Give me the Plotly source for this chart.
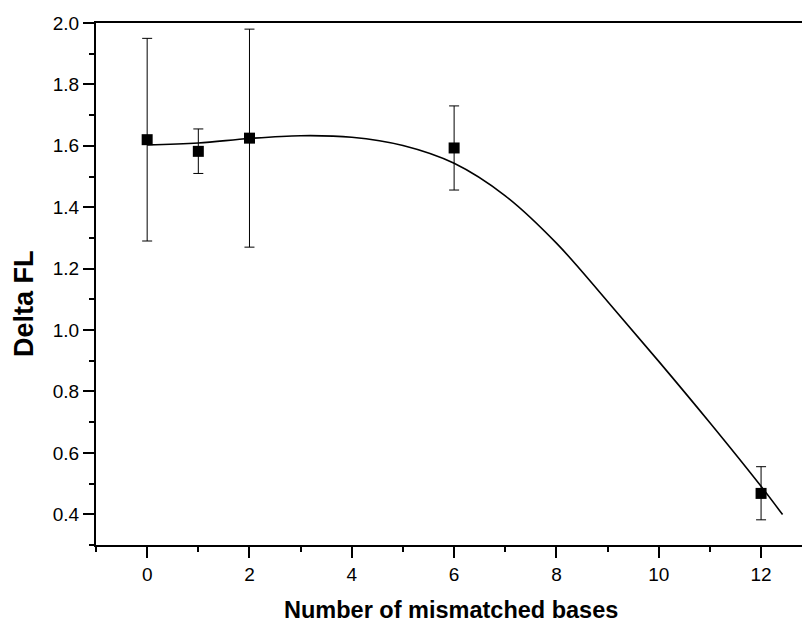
import plotly.graph_objects as go

# measured data points
x_pts = [0, 1, 2, 6, 12]
y_pts = [1.620, 1.582, 1.625, 1.593, 0.468]
err_plus = [0.330, 0.073, 0.355, 0.137, 0.087]
err_minus = [0.330, 0.072, 0.355, 0.137, 0.086]

# fitted curve at whole-number x positions
x_fit = [0, 1, 2, 3, 4, 5, 6, 7, 8, 9, 10, 11, 12, 12.42]
y_fit = [1.603, 1.609, 1.624, 1.633, 1.628, 1.601, 1.543, 1.437, 1.283, 1.093,
         0.898, 0.698, 0.491, 0.399]

x_ticks = [0, 2, 4, 6, 8, 10, 12]
y_ticks = [0.4, 0.6, 0.8, 1.0, 1.2, 1.4, 1.6, 1.8, 2.0]

FONT = "Liberation Sans, Arial, sans-serif"

fig = go.Figure()
fig.add_trace(go.Scatter(
    x=x_fit, y=y_fit, mode="lines",
    line=dict(color="black", width=1.6, shape="spline", smoothing=1.0),
    hoverinfo="skip", showlegend=False,
))
fig.add_trace(go.Scatter(
    x=x_pts, y=y_pts, mode="markers",
    marker=dict(symbol="square", size=11, color="black"),
    error_y=dict(type="data", symmetric=False, array=err_plus, arrayminus=err_minus,
                 color="black", thickness=1, width=5),
    showlegend=False,
))

fig.update_layout(
    width=802, height=622,
    margin=dict(l=96, r=0, t=23, b=77),
    paper_bgcolor="white", plot_bgcolor="white",
    font=dict(family=FONT, size=19, color="black"),
    xaxis=dict(
        range=[-1, 12.8], tickvals=x_ticks, ticktext=[str(v) for v in x_ticks],
        showgrid=False, zeroline=False, showline=True, linecolor="black", linewidth=2,
        mirror=True, ticks="outside", ticklen=11, tickwidth=2, tickcolor="black",
        minor=dict(tickvals=[-1, 1, 3, 5, 7, 9, 11], ticks="outside", ticklen=5,
                   tickwidth=2, tickcolor="black"),
        tickfont=dict(size=19, family=FONT),
    ),
    yaxis=dict(
        range=[0.3, 2.0], tickvals=y_ticks, ticktext=["%.1f" % v for v in y_ticks],
        showgrid=False, zeroline=False, showline=True, linecolor="black", linewidth=2,
        ticks="outside", ticklen=11, tickwidth=2, tickcolor="black",
        minor=dict(tickvals=[0.3, 0.5, 0.7, 0.9, 1.1, 1.3, 1.5, 1.7, 1.9], ticks="outside",
                   ticklen=5, tickwidth=2, tickcolor="black"),
        tickfont=dict(size=19, family=FONT),
    ),
    annotations=[
        dict(text="<b>Number of mismatched bases</b>", xref="paper", yref="paper",
             x=(450.5 - 96) / 706, y=(545 - 610) / 522, xanchor="center", yanchor="middle",
             showarrow=False, font=dict(size=23.5, family=FONT, color="black")),
        dict(text="<b>Delta FL</b>", xref="paper", yref="paper",
             x=(23.5 - 96) / 706, y=(545 - 303.5) / 522, xanchor="center", yanchor="middle",
             textangle=-90, showarrow=False, font=dict(size=27, family=FONT, color="black")),
    ],
)

fig.write_html("out.html")
